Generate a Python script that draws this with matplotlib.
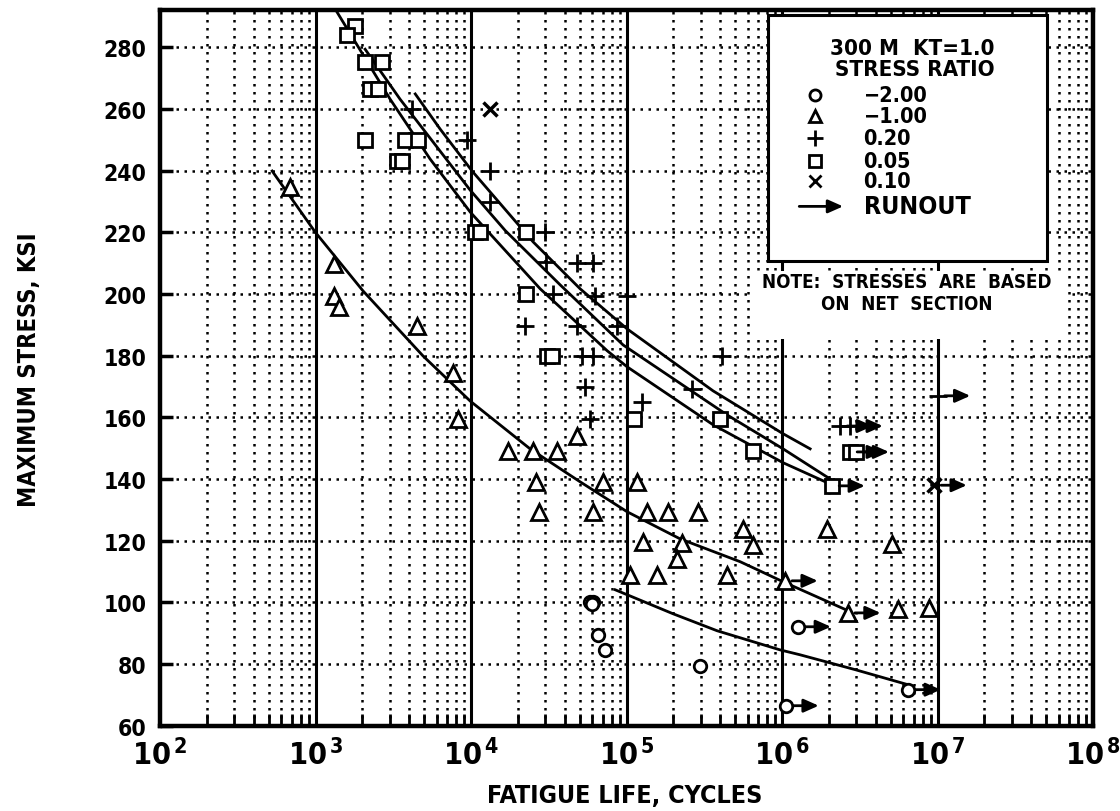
#!/usr/bin/env python3
"""
S-N fatigue chart for 300M steel, Kt=1.0, several stress ratios.
"""

import matplotlib
matplotlib.use("Agg")
import matplotlib.pyplot as plt
from matplotlib.patches import Rectangle

plt.rcParams["font.family"] = ["DejaVu Sans"]
plt.rcParams["font.weight"] = "bold"
plt.rcParams["font.stretch"] = "condensed"
plt.rcParams["mathtext.fontset"] = "custom"
plt.rcParams["mathtext.rm"] = "DejaVu Sans:bold"
plt.rcParams["mathtext.bf"] = "DejaVu Sans:bold"
plt.rcParams["mathtext.it"] = "DejaVu Sans:bold"

# --- data: (cycles, max stress ksi) ---------------------------------------
# R = -2.00 (circles)
circN = [5.8e4, 6.1e4, 6.0e4, 6.5e4, 7.3e4, 2.97e5]
circS = [100, 100, 99.5, 89.5, 84.6, 79.4]
circRunN = [1.27e6, 1.06e6, 6.46e6]
circRunS = [92.1, 66.5, 71.7]

# R = -1.00 (triangles)
triN = [686, 1315, 1315, 1417, 4500, 7660, 8240, 17300, 25100, 35700, 48100,
        26200, 70600, 117000, 27400, 61000, 135500, 185000, 288000, 561000,
        1.95e6, 5.09e6, 127600, 227000, 651000, 211000, 105000, 157000,
        443000, 5.57e6, 8.8e6]
triS = [234.7, 209.8, 199.4, 195.8, 189.7, 174.4, 159.5, 149.1, 149.1, 149.1, 154,
        139.1, 139.1, 139.1, 129.4, 129.4, 129.4, 129.4, 129.4, 123.9,
        123.9, 119, 119.6, 119.3, 118.7, 114.1, 108.9, 108.9,
        108.9, 97.9, 98.2]
triRunN = [1.045e6, 2.65e6]
triRunS = [107, 96.6]

# R = 0.20 (pluses)
plusN = [4180, 9420, 13260, 13260, 29900, 30400, 48000, 61000, 62700, 100700,
         33700, 22200, 48000, 86900, 51800, 61000, 411000, 54100, 264000,
         125900, 58200]
plusS = [260, 250, 240, 230, 220, 210.4, 210, 210, 199.4, 199.4,
         200, 189.7, 189.7, 189.7, 180, 180, 180, 170, 169.2,
         165, 159.5]
plusRunN = [2.36e6, 2.74e6, 1.0e7]
plusRunS = [157.2, 157.2, 167]

# R = 0.05 (squares)
sqN = [1795, 1596, 2080, 2680, 2240, 2520, 2080, 3770, 4560, 3340, 3600,
       10600, 11400, 22600, 22600, 30800, 33200, 111700, 399000, 651000]
sqS = [286.9, 284, 275.2, 275.2, 266.5, 266.5, 250, 250, 250, 243.1, 243.1,
       220.1, 220.1, 220.1, 200, 180, 180, 159.5, 159.5, 149.1]
sqRunN = [2.1e6, 2.74e6, 3.0e6]
sqRunS = [137.8, 148.8, 148.8]

# R = 0.10 (crosses)
crossN = [13260]
crossS = [260]
crossRunN = [9.5e6]
crossRunS = [138]

# fitted curves
curveA_N = [4370, 6320, 10140, 25060, 50230, 100700, 359700, 1.014e6, 1.514e6]
curveA_S = [264.9, 253.5, 239.9, 216.9, 201.7, 188.7, 168.6, 154.7, 149.8]
curveB_N = [1374, 3013, 5445, 9860, 27800, 75000, 100700, 359700, 1.014e6, 2.037e6]
curveB_S = [291.4, 263.2, 243.8, 226.6, 201.7, 181.6, 176.4, 157.6, 145.3, 138.4]
curveC_N = [2080, 3490, 9860, 16560, 37330, 94840, 442600, 1.014e6, 2.128e6]
curveC_S = [279.4, 263.2, 233.7, 220.6, 203.0, 183.5, 160.8, 149.8, 139.4]
curveD_N = [525, 993, 2018, 4910, 9860, 23930, 50230, 100700, 220800,
            537000, 1.014e6, 2.655e6]
curveD_S = [239.9, 220.1, 201.0, 179.9, 165.3, 149.8, 139.1, 129.4, 120.6,
            113.2, 106.7, 97.3]
curveE_N = [84330, 199100, 381900, 970500, 1.306e6, 2.944e6, 6.457e6]
curveE_S = [104.1, 96.3, 90.8, 84.6, 83.0, 78.2, 73.3]

legendLabels = ["\u22122.00", "\u22121.00", "0.20", "0.05", "0.10"]

# --- figure ----------------------------------------------------------------
fig = plt.figure(figsize=(11.2, 8.12), dpi=100)
ax = fig.add_axes([0.143, 0.105, 0.833, 0.881])
ax.set_xscale("log")
ax.set_xlim(1e2, 1e8)
ax.set_ylim(60, 292)

dotted = dict(color="black", lw=1.8, linestyle=(0, (1, 2.2)), zorder=1)
for dec in range(2, 8):
    for m in range(2, 10):
        ax.axvline(m * 10 ** dec, **dotted)
    if dec > 2:
        ax.axvline(10 ** dec, color="black", lw=2.2, zorder=1)
for yv in range(80, 292, 20):
    ax.axhline(yv, **dotted)

for side in ax.spines.values():
    side.set_linewidth(3.2)

ax.set_yticks(range(60, 292, 20))
ax.tick_params(axis="y", direction="in", length=9, width=2.5, labelsize=16.5,
               pad=10, right=False)
ax.set_xticks([10 ** d for d in range(2, 9)])
ax.set_xticklabels(["10$^{\\,%d}$" % d for d in range(2, 9)], fontsize=22)
ax.tick_params(axis="x", which="major", direction="in", length=0, pad=9)
ax.tick_params(axis="x", which="minor", direction="in", length=9, width=2,
               top=False)
for lab in ax.get_yticklabels():
    lab.set_fontweight("bold")

# curves
for cn, cs in [(curveA_N, curveA_S), (curveB_N, curveB_S), (curveC_N, curveC_S),
               (curveD_N, curveD_S), (curveE_N, curveE_S)]:
    ax.plot(cn, cs, color="black", lw=2, zorder=3)

mk = dict(linestyle="none", color="black", mfc="white", mew=2, zorder=4)
ax.plot(circN + circRunN, circS + circRunS, marker="o", ms=9, **mk)
ax.plot(triN + triRunN, triS + triRunS, marker="^", ms=11, **mk)
ax.plot(plusN + plusRunN, plusS + plusRunS, marker="+", ms=13, **mk)
ax.plot(sqN + sqRunN, sqS + sqRunS, marker="s", ms=10, **mk)
ax.plot(crossN + crossRunN, crossS + crossRunS, marker="x", ms=10,
        **dict(mk, mew=2.5))

# runout arrows
arrowProps = dict(arrowstyle="-|>,head_length=0.9,head_width=0.4", lw=2,
                  color="black", shrinkA=5, shrinkB=0)
for rn, rs in zip(circRunN + triRunN + plusRunN + sqRunN + crossRunN,
                  circRunS + triRunS + plusRunS + sqRunS + crossRunS):
    ax.annotate("", xy=(rn * 10 ** 0.21, rs), xytext=(rn, rs),
                arrowprops=arrowProps, zorder=5)

# note with white background
ax.add_patch(Rectangle((0.632, 0.541), 0.340, 0.095, transform=ax.transAxes,
                       facecolor="white", edgecolor="none", zorder=2))
ax.text(0.800, 0.621, "NOTE:  STRESSES  ARE  BASED", transform=ax.transAxes,
        ha="center", va="center", fontsize=13.5, zorder=6)
ax.text(0.800, 0.590, "ON  NET  SECTION", transform=ax.transAxes,
        ha="center", va="center", fontsize=13.5, zorder=6)

# legend box
ax.add_patch(Rectangle((0.652, 0.649), 0.299, 0.345, transform=ax.transAxes,
                       facecolor="white", edgecolor="black", lw=2.2, zorder=6))
ax.text(0.806, 0.947, "300 M  KT=1.0", transform=ax.transAxes, ha="center",
        va="center", fontsize=16, zorder=7)
ax.text(0.809, 0.918, "STRESS RATIO", transform=ax.transAxes, ha="center",
        va="center", fontsize=16, zorder=7)
legY = [0.881, 0.852, 0.821, 0.790, 0.761]
legMarkers = [("o", 8), ("^", 9), ("+", 11), ("s", 9), ("x", 9)]
for (m, s), lab, yy in zip(legMarkers, legendLabels, legY):
    ax.plot([0.702], [yy], marker=m, ms=s, transform=ax.transAxes,
            **dict(mk, zorder=7))
    ax.text(0.754, yy, lab, transform=ax.transAxes, ha="left", va="center",
            fontsize=15.5, zorder=7)
ax.annotate("", xy=(0.732, 0.726), xytext=(0.685, 0.726),
            xycoords="axes fraction", arrowprops=dict(arrowProps, shrinkA=0),
            zorder=7)
ax.text(0.754, 0.726, "RUNOUT", transform=ax.transAxes, ha="left",
        va="center", fontsize=18, zorder=7)

fig.text(0.558, 0.02, "FATIGUE LIFE, CYCLES", ha="center", va="center",
         fontsize=18)
fig.text(0.026, 0.545, "MAXIMUM STRESS, KSI", rotation=90, ha="center",
         va="center", fontsize=17)

fig.savefig("out.png", dpi=100)
